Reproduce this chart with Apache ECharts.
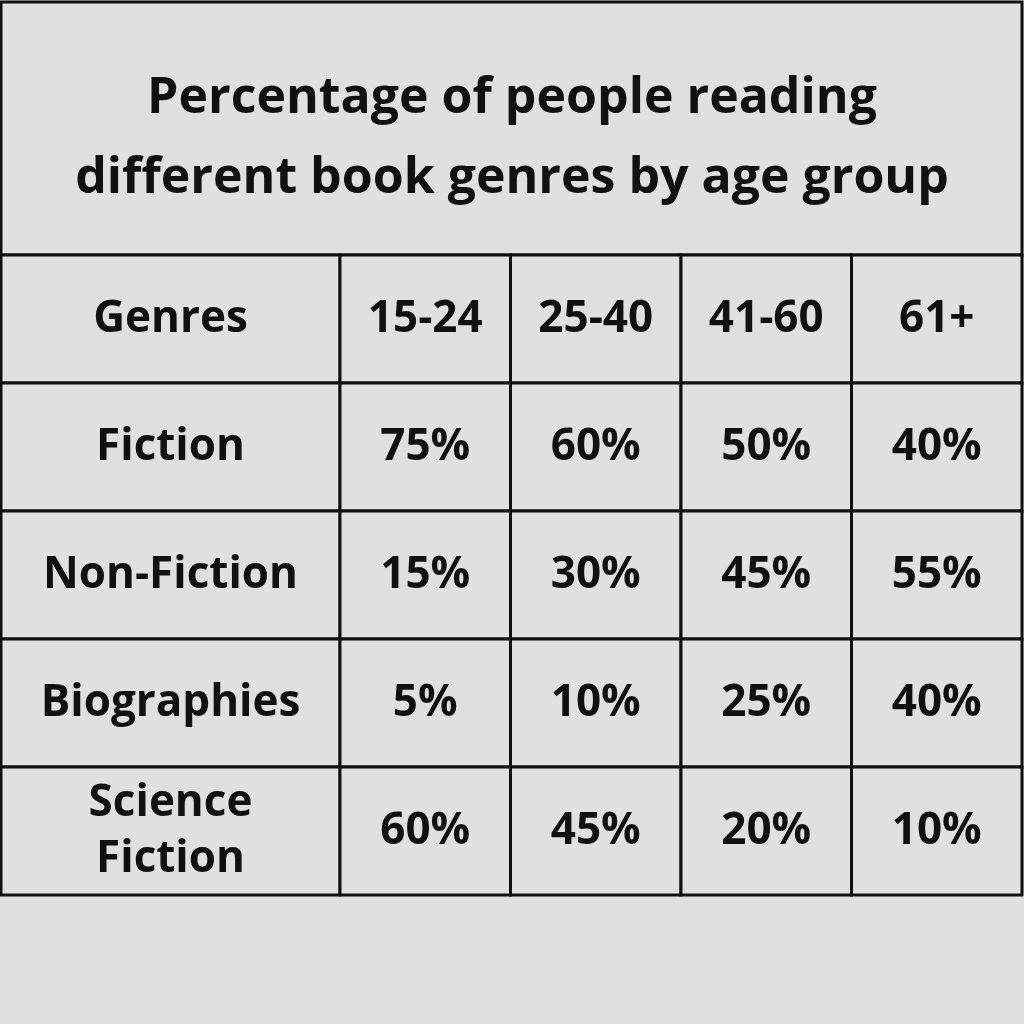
<!DOCTYPE html>
<html>
<head>
<meta charset="utf-8">
<script src="https://cdn.jsdelivr.net/npm/echarts@6/dist/echarts.min.js"></script>
<style>html,body{margin:0;padding:0;background:#e0e0e0}#chart{width:1024px;height:1024px}</style>
</head>
<body>
<div id="chart"></div>
<script>
var titleText = 'Percentage of people reading\ndifferent book genres by age group';
var headerLabel = 'Genres';
var ageGroups = ['15-24', '25-40', '41-60', '61+'];
var genres = ['Fiction', 'Non-Fiction', 'Biographies', 'Science\nFiction'];
var fiction = [75, 60, 50, 40];
var nonFiction = [15, 30, 45, 55];
var biographies = [5, 10, 25, 40];
var sciFi = [60, 45, 20, 10];

var rows = [headerLabel].concat(genres);
var values = [fiction, nonFiction, biographies, sciFi];

var leftTexts = [], leftData = [];
rows.forEach(function (r, i) { leftData.push([0, i, leftTexts.length]); leftTexts.push(r); });
var rightTexts = [], rightData = [];
ageGroups.forEach(function (a, j) { rightData.push([j, 0, rightTexts.length]); rightTexts.push(a); });
values.forEach(function (vals, i) {
  vals.forEach(function (v, j) { rightData.push([j, i + 1, rightTexts.length]); rightTexts.push(v + '%'); });
});

var font = '"Open Sans", sans-serif';

function cellRenderer(texts) {
  return function (params, api) {
    var c = api.coord([api.value(0), api.value(1)]);
    var s = api.size([1, 1]);
    return {
      type: 'rect',
      shape: { x: c[0] - s[0] / 2, y: c[1] - s[1] / 2, width: s[0], height: s[1] },
      style: { fill: '#e0e0e0', stroke: '#111', lineWidth: 3 },
      textContent: {
        style: {
          text: texts[api.value(2)], fill: '#111', fontFamily: font, fontWeight: 'bold',
          fontSize: 44, lineHeight: 56, align: 'center'
        }
      },
      textConfig: { position: 'inside' }
    };
  };
}
function hiddenAxis(type, n, gi) {
  var d = []; for (var k = 0; k < n; k++) d.push(k);
  return { type: 'category', data: d, gridIndex: gi, inverse: type === 'y', show: false };
}

var chart = echarts.init(document.getElementById('chart'));
chart.setOption({
  backgroundColor: '#e0e0e0',
  title: {
    text: titleText, left: 'center', top: 54,
    textStyle: { fontFamily: font, fontWeight: 'bold', fontSize: 50, lineHeight: 80, color: '#111' }
  },
  graphic: [{
    type: 'rect', shape: { x: 1, y: 2, width: 1021, height: 253 },
    style: { fill: 'none', stroke: '#111', lineWidth: 3 }
  }],
  grid: [
    { left: 1, top: 255, width: 339, height: 640 },
    { left: 340, top: 255, width: 682, height: 640 }
  ],
  xAxis: [hiddenAxis('x', 1, 0), hiddenAxis('x', 4, 1)],
  yAxis: [hiddenAxis('y', 5, 0), hiddenAxis('y', 5, 1)],
  series: [
    { type: 'custom', xAxisIndex: 0, yAxisIndex: 0, data: leftData, renderItem: cellRenderer(leftTexts) },
    { type: 'custom', xAxisIndex: 1, yAxisIndex: 1, data: rightData, renderItem: cellRenderer(rightTexts) }
  ]
});
</script>
</body>
</html>
